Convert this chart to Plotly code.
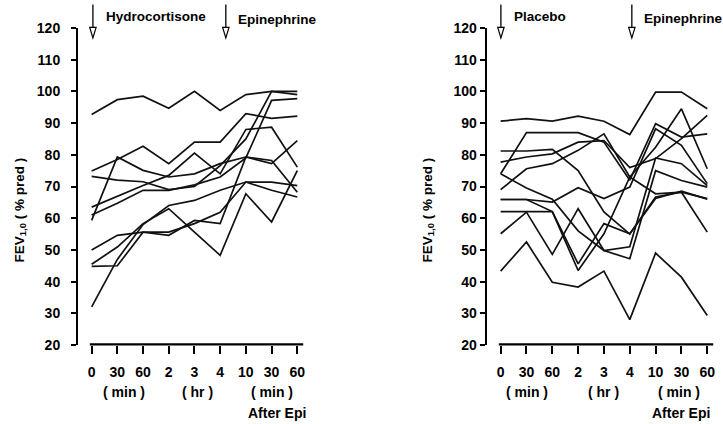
import plotly.graph_objects as go

# Time points: 0, 30, 60 min; 2, 3, 4 hr; then 10, 30, 60 min after epinephrine
time_labels = ["0", "30", "60", "2", "3", "4", "10", "30", "60"]
time_index = list(range(len(time_labels)))
EPI_INDEX = time_labels.index("4")  # epinephrine given at 4 hr

# FEV1.0 (% predicted) per subject, hydrocortisone arm
hydro_subjects = [
    [92.7, 97.4, 98.5, 94.7, 100.0, 94.0, 99.0, 100.0, 100.0],
    [74.9, 78.5, 82.7, 77.2, 84.0, 84.0, 93.0, 91.5, 92.2],
    [73.2, 72.0, 71.5, 69.0, 70.0, 76.6, 85.0, 100.0, 99.0],
    [59.3, 79.3, 75.1, 73.0, 74.0, 77.2, 79.3, 78.2, 68.2],
    [63.5, 67.0, 70.3, 73.5, 80.5, 74.0, 88.0, 88.7, 76.1],
    [61.0, 64.7, 68.8, 68.8, 70.5, 73.0, 79.0, 97.2, 97.7],
    [50.0, 54.6, 55.6, 55.6, 58.3, 61.9, 71.4, 71.4, 70.3],
    [45.5, 50.9, 58.3, 63.0, 55.6, 48.3, 67.7, 58.8, 75.0],
    [44.8, 45.0, 55.6, 54.6, 59.3, 58.3, 79.3, 77.2, 84.5],
    [32.0, 47.0, 58.0, 64.0, 65.6, 68.8, 71.4, 68.8, 66.7],
]

# FEV1.0 (% predicted) per subject, placebo arm
placebo_subjects = [
    [90.6, 91.4, 90.6, 92.2, 90.6, 86.4, 99.8, 99.8, 94.5],
    [74.0, 87.0, 87.0, 87.0, 84.0, 72.0, 89.8, 85.6, 86.6],
    [81.2, 81.2, 81.7, 75.0, 62.0, 55.0, 66.7, 68.2, 66.2],
    [77.7, 79.3, 80.3, 84.0, 84.5, 76.0, 78.8, 85.1, 92.4],
    [69.0, 75.6, 77.2, 81.4, 86.6, 73.0, 82.4, 94.5, 75.6],
    [74.0, 69.5, 66.0, 56.0, 49.8, 51.0, 79.0, 77.2, 70.3],
    [65.9, 65.9, 65.1, 69.6, 66.2, 69.8, 88.2, 83.0, 70.9],
    [65.9, 65.9, 62.1, 43.5, 55.1, 73.0, 67.7, 68.2, 55.6],
    [62.1, 62.1, 62.1, 45.6, 58.3, 55.1, 66.2, 68.5, 66.0],
    [55.1, 61.9, 48.6, 63.0, 49.8, 47.2, 75.0, 71.9, 69.8],
    [43.3, 52.5, 39.8, 38.3, 43.3, 28.0, 49.0, 41.4, 29.3],
]

y_ticks = list(range(20, 121, 10))

W, H = 723, 424
M_TOP, M_BOT = 27.6, 79.4
FONT = "Liberation Sans, Arial, sans-serif"
INK = "#000000"

fig = go.Figure()

for row in hydro_subjects:
    fig.add_trace(go.Scatter(x=time_index, y=row, mode="lines",
                             line=dict(color="#111111", width=1.7),
                             xaxis="x", yaxis="y", showlegend=False,
                             hoverinfo="skip"))
for row in placebo_subjects:
    fig.add_trace(go.Scatter(x=time_index, y=row, mode="lines",
                             line=dict(color="#111111", width=1.7),
                             xaxis="x2", yaxis="y2", showlegend=False,
                             hoverinfo="skip"))

tick_font = dict(family=FONT, size=14, color=INK, weight="bold")


def xaxis_cfg(domain, rng, anchor):
    return dict(domain=domain, range=rng, anchor=anchor, showline=False,
                showgrid=False, zeroline=False, ticks="outside", ticklen=8,
                tickwidth=2, tickcolor=INK, tickvals=time_index,
                ticktext=time_labels, tickfont=tick_font,
                ticklabelstandoff=6, fixedrange=True)


def yaxis_cfg(anchor, standoff):
    return dict(anchor=anchor, range=[20, 120], showline=True, linewidth=2,
                linecolor=INK, showgrid=False, zeroline=False,
                ticks="outside", ticklen=5, tickwidth=2, tickcolor=INK,
                tickvals=y_ticks, tickfont=tick_font,
                ticklabelstandoff=standoff, fixedrange=True)


left_dom = [78 / W, 305 / W]
right_dom = [486.7 / W, 715 / W]
x_rng_left = [-0.53, 8.3]
x_rng_right = [-0.54, 8.3]

fig.update_layout(
    width=W, height=H,
    margin=dict(l=0, r=0, t=M_TOP, b=M_BOT),
    paper_bgcolor="white", plot_bgcolor="white",
    xaxis=xaxis_cfg(left_dom, x_rng_left, "y"),
    yaxis=yaxis_cfg("x", 8),
    xaxis2=xaxis_cfg(right_dom, x_rng_right, "y2"),
    yaxis2=yaxis_cfg("x2", 0),
)


def px_x(dom, rng, v):
    """Data x -> page pixel for a panel."""
    a, b = dom[0] * W, dom[1] * W
    return a + (v - rng[0]) / (rng[1] - rng[0]) * (b - a)


def fx(xp):
    """Page pixel x -> paper fraction (no side margins)."""
    return xp / W


def fy(yp):
    """Page pixel y -> paper fraction (paper spans the plotting band)."""
    return (H - M_BOT - yp) / (H - M_TOP - M_BOT)


shapes = []
# Baselines under each time axis (detached from the value axis)
for dom, rng in ((left_dom, x_rng_left), (right_dom, x_rng_right)):
    x0 = px_x(dom, rng, -0.07)
    x1 = px_x(dom, rng, 8.23)
    shapes.append(dict(type="line", xref="paper", yref="paper",
                       x0=fx(x0), x1=fx(x1), y0=fy(344.0), y1=fy(344.0),
                       line=dict(color=INK, width=2.2)))


def arrow(xp):
    # stem plus open triangular head, in page pixels
    top, base, tip, hw = 4.0, 27.0, 37.5, 3.2
    shapes.append(dict(type="line", xref="paper", yref="paper",
                       x0=fx(xp), x1=fx(xp), y0=fy(top), y1=fy(base),
                       line=dict(color=INK, width=1.3)))
    path = (f"M {fx(xp - hw)},{fy(base)} L {fx(xp + hw)},{fy(base)} "
            f"L {fx(xp)},{fy(tip)} Z")
    shapes.append(dict(type="path", xref="paper", yref="paper", path=path,
                       line=dict(color=INK, width=1.2), fillcolor="white"))


arrow(px_x(left_dom, x_rng_left, 0.05))
arrow(px_x(left_dom, x_rng_left, EPI_INDEX + 0.22))
arrow(px_x(right_dom, x_rng_right, 0.01))
arrow(px_x(right_dom, x_rng_right, EPI_INDEX + 0.08))

fig.update_layout(shapes=shapes)

annotations = []


def text_px(txt, xp, yp, xanchor="left", size=13.5, angle=0):
    annotations.append(dict(text=txt, x=fx(xp), y=fy(yp), xref="paper",
                            yref="paper", xanchor=xanchor, yanchor="middle",
                            textangle=angle, showarrow=False,
                            font=dict(family=FONT, size=size, color=INK,
                                      weight="bold")))


# Treatment labels next to the arrows
text_px("Hydrocortisone", 104, 16)
text_px("Epinephrine", 236, 19)
text_px("Placebo", 512, 16.5)
text_px("Epinephrine", 642, 18)

# Time unit captions
for dom, rng, pos in ((left_dom, x_rng_left, (1.25, 4.1, 7.0, 7.2)),
                      (right_dom, x_rng_right, (1.03, 4.0, 6.9, 7.0))):
    text_px("( min )", px_x(dom, rng, pos[0]), 391.7, "center", 14)
    text_px("( hr )", px_x(dom, rng, pos[1]), 391.7, "center", 14)
    text_px("( min )", px_x(dom, rng, pos[2]), 391.7, "center", 14)
    text_px("After Epi", px_x(dom, rng, pos[3]), 412.5, "center", 14)

# Value axis titles
for xp in (20, 428):
    text_px("FEV<sub>1,0</sub> ( % pred )", xp, 210, "center", 13.5, -90)

fig.update_layout(annotations=annotations)

fig.write_html("out.html")
